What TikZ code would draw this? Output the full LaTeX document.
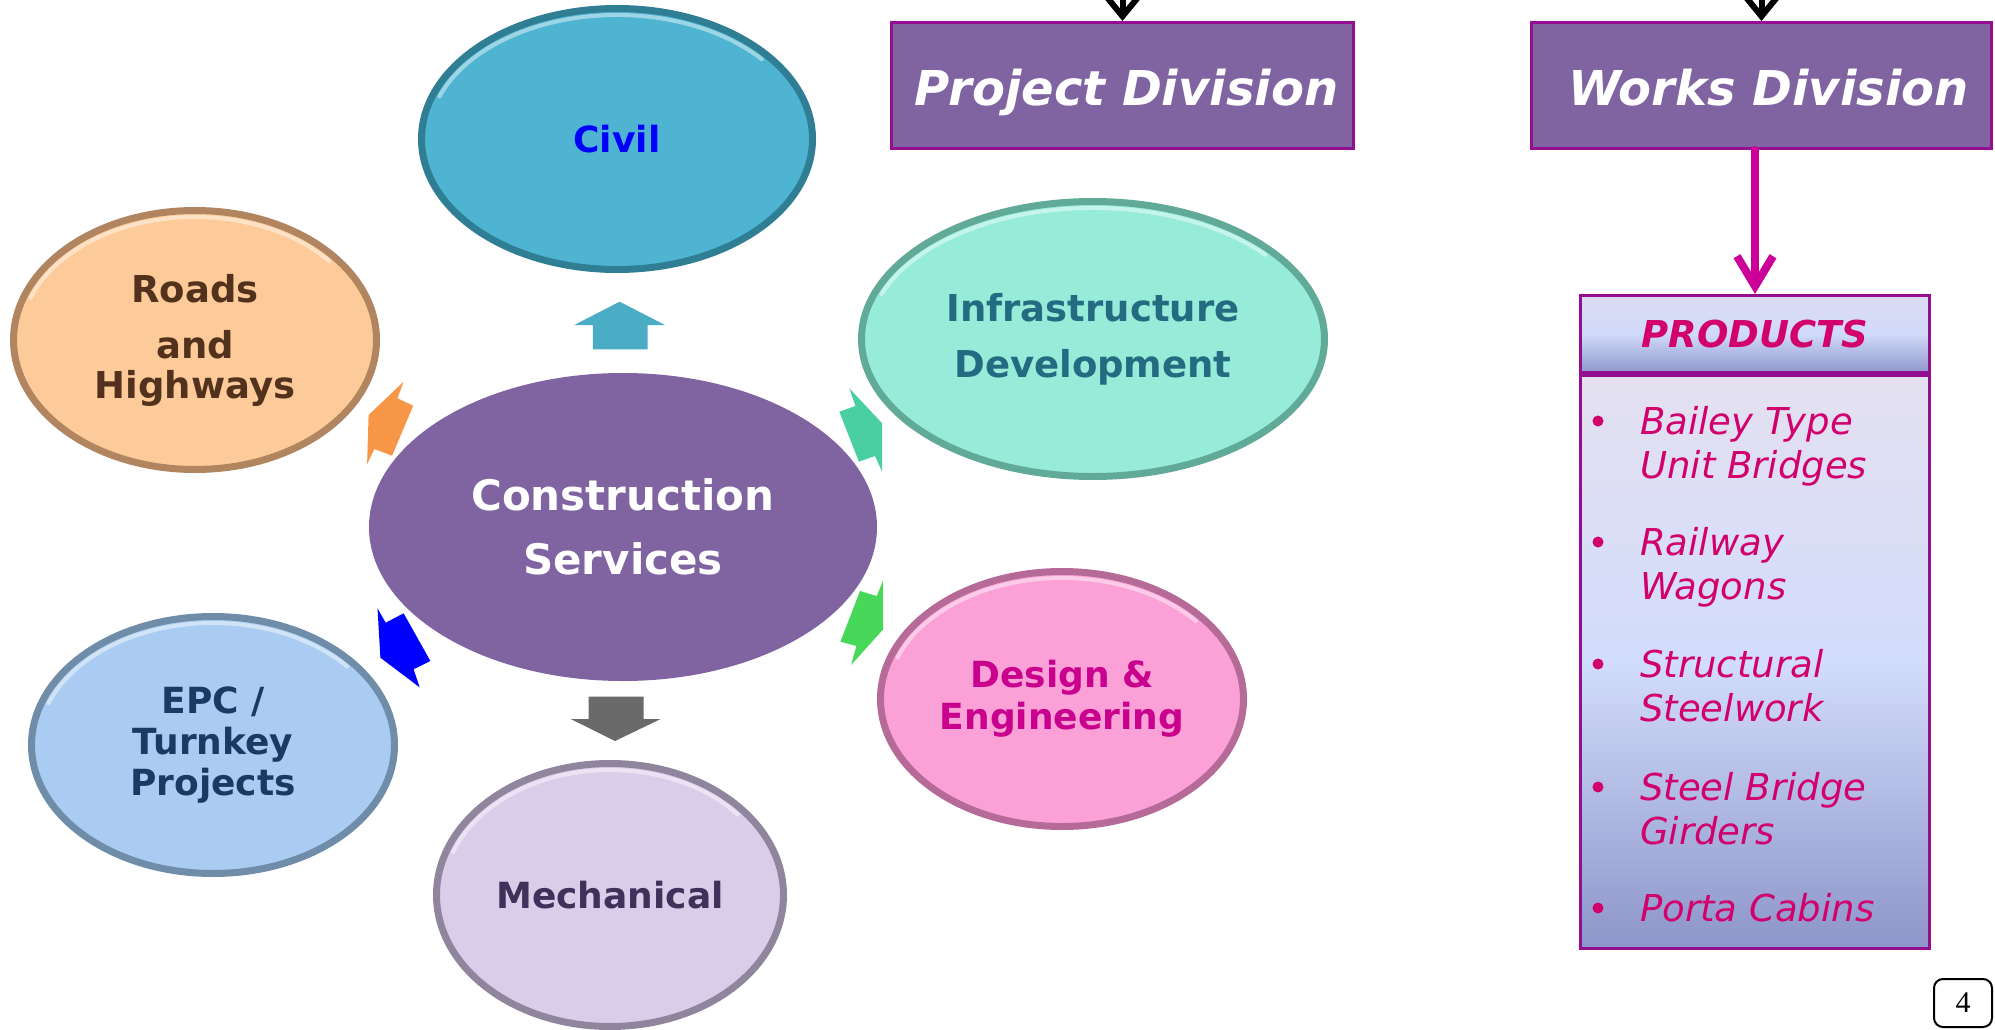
\documentclass[tikz,border=0pt]{standalone}
\usepackage{fontspec}
\setmainfont{DejaVu Sans}
\newfontfamily\pgnumfont{Liberation Serif}
\usetikzlibrary{shapes.geometric,arrows.meta,calc}
\definecolor{civilfill}{HTML}{4EB4D1}\definecolor{civildark}{HTML}{2F7E94}
\definecolor{infrafill}{HTML}{96EBD9}\definecolor{infradark}{HTML}{62AA98}\definecolor{infratext}{HTML}{236B80}
\definecolor{desfill}{HTML}{FBA1D7}\definecolor{desdark}{HTML}{B56A98}\definecolor{destext}{HTML}{C9008D}
\definecolor{mechfill}{HTML}{D9CDEA}\definecolor{mechdark}{HTML}{8F859C}\definecolor{mechtext}{HTML}{3F3159}
\definecolor{epcfill}{HTML}{AACCF2}\definecolor{epcdark}{HTML}{6F8CA8}\definecolor{epctext}{HTML}{1B3A63}
\definecolor{roadfill}{HTML}{FDCB99}\definecolor{roaddark}{HTML}{B08560}\definecolor{roadtext}{HTML}{52311D}
\definecolor{hubfill}{HTML}{8064A2}
\definecolor{boxborder}{HTML}{930E91}
\definecolor{prodpink}{HTML}{D1006C}
\definecolor{arrmagenta}{HTML}{CC0099}
\definecolor{arrcivil}{HTML}{4BACC6}\definecolor{arrgray}{HTML}{6A6A6A}
\definecolor{arrorange}{HTML}{F79646}\definecolor{arrteal}{HTML}{4ACFA2}
\definecolor{arrgreen}{HTML}{47D85A}\definecolor{arrblue}{HTML}{0000FF}
\definecolor{headtop}{HTML}{DCDCF4}\definecolor{headmid}{HTML}{D0DAF8}\definecolor{headbot}{HTML}{8F97CC}
\definecolor{bodytop}{HTML}{E4E0F0}\definecolor{bodymid}{HTML}{D2DCFB}\definecolor{bodybot}{HTML}{8D95CA}
\newcommand\rimlight[3]{\draw[rimhl] ($(#1.center)+(200:#2 and #3)$) arc[start angle=200,end angle=320,x radius=#2,y radius=#3];}
\begin{document}
\begin{tikzpicture}[x=1pt,y=-1pt,
  bubble/.style={ellipse, inner sep=0pt, line width=7pt, align=center,
    font=\bfseries\fontsize{36}{41}\selectfont},
  rimhl/.style={line width=4pt, white, opacity=0.45, line cap=round},
  divbox/.style={rectangle, fill=hubfill, draw=boxborder, line width=3pt,
    minimum height=126pt, inner sep=0pt, text=white,
    font=\bfseries\itshape\fontsize{48}{48}\selectfont, text height=41pt, text depth=0pt},
  feedarrow/.style={line width=6pt, black, line cap=round, line join=round,
    -{Straight Barb[length=22pt,width=36pt]}},
  prodarrow/.style={line width=8pt, arrmagenta, line cap=round, line join=round,
    -{Straight Barb[length=30pt,width=36pt]}},
  itemtext/.style={anchor=north west, inner sep=0pt, align=left, text=prodpink,
    font=\itshape\fontsize{37}{44.5}\selectfont},
  bulletdot/.style={circle, fill=prodpink, inner sep=0pt, minimum size=11pt}
]
\useasboundingbox (0,0) rectangle (1995,1030);
\clip (0,0) rectangle (1995,1030);

% outer bubbles
\node[bubble, fill=civilfill, draw=civildark, minimum width=391pt, minimum height=261pt, text=blue] (civil) at (617,139) {Civil};
\rimlight{civil}{189}{124}
\node[bubble, fill=infrafill, draw=infradark, minimum width=463pt, minimum height=275pt, text=infratext,
  font=\bfseries\fontsize{37}{56}\selectfont] (infra) at (1093,339) {Infrastructure\\Development};
\rimlight{infra}{225}{131}
\node[bubble, fill=desfill, draw=desdark, minimum width=363pt, minimum height=255pt, text=destext,
  font=\bfseries\fontsize{36}{42}\selectfont] (design) at (1062,699) {Design \&\\Engineering};
\rimlight{design}{175}{121}
\node[bubble, fill=mechfill, draw=mechdark, minimum width=347pt, minimum height=263pt, text=mechtext] (mech) at (610,895) {Mechanical};
\rimlight{mech}{167}{125}
\node[bubble, fill=epcfill, draw=epcdark, minimum width=363pt, minimum height=257pt, text=epctext,
  font=\bfseries\fontsize{36}{41}\selectfont] (epc) at (213,745) {EPC /\\Turnkey\\Projects};
\rimlight{epc}{175}{122}
\node[bubble, fill=roadfill, draw=roaddark, minimum width=363pt, minimum height=259pt, text=roadtext,
  font=\bfseries\fontsize{37}{40}\selectfont] (roads) at (195,340) {Roads\\[16pt]and\\Highways};
\rimlight{roads}{175}{123}

% hub
\node[ellipse, fill=hubfill, inner sep=0pt, minimum width=508pt, minimum height=308pt, align=center,
  text=white, font=\bfseries\fontsize{42}{64}\selectfont] (hub) at (623,527) {Construction\\Services};

% block arrows
\fill[arrcivil] (574.3,325) -- (619.6,301.7) -- (665,325) -- (647.5,325) -- (647.5,349.3) -- (592.9,349.3) -- (592.9,325) -- cycle;
\fill[arrgray] (588.6,696.7) -- (643.6,696.7) -- (643.6,719) -- (660.7,719) -- (615,741) -- (570.7,719) -- (588.6,719) -- cycle;
\fill[arrorange] (368.6,415) -- (403.6,381.7) -- (397.5,398.3) -- (413.2,405.7) -- (392.1,455.7) -- (374.3,449) -- (367.1,464.3) -- cycle;
\fill[arrteal] (849.3,388.3) -- (882.1,423.3) -- (882.1,471.7) -- (875,456) -- (858.9,461.7) -- (839.3,411.7) -- (855.4,406) -- cycle;
\fill[arrgreen] (883.2,580) -- (883.2,629.3) -- (851.1,665) -- (856.4,646) -- (840.4,641.7) -- (860,591) -- (876.8,596) -- cycle;
\fill[arrblue] (377.5,608.3) -- (385.7,622.7) -- (403.6,613.3) -- (430.4,661) -- (413.6,669.3) -- (419.6,687.3) -- (380.4,657.7) -- cycle;

% division boxes
\node[divbox, minimum width=462pt] (pd) at (1122.5,85.5) {\hspace*{8pt}Project Division};
\node[divbox, minimum width=460pt] (wd) at (1761.5,85.5) {\hspace*{14pt}Works Division};
\coordinate (pdfeed) at (1122.5,-80);
\coordinate (wdfeed) at (1761.5,-80);
\draw[feedarrow] (pdfeed) -- (pd.north);
\draw[feedarrow] (wdfeed) -- (wd.north);

% products
\node[rectangle, draw=boxborder, line width=3pt, minimum width=349pt, minimum height=573pt, inner sep=0pt,
  top color=bodytop, bottom color=bodybot, middle color=bodymid] (prodbody) at (1755,662) {};
\node[rectangle, draw=boxborder, line width=3pt, minimum width=349pt, minimum height=77pt, inner sep=0pt,
  top color=headtop, bottom color=headbot, middle color=headmid, text=prodpink,
  font=\bfseries\itshape\fontsize{37}{37}\selectfont] (prodhead) at (1755,334) {PRODUCTS};
\draw[prodarrow] (wd.south -| prodhead.north) -- (prodhead.north);

\node[bulletdot] (b1) at (1598,421) {};
\node[itemtext] (t1) at (1640,406) {Bailey Type\\Unit Bridges};
\node[bulletdot] (b2) at (1598,542) {};
\node[itemtext] (t2) at (1640,527) {Railway\\Wagons};
\node[bulletdot] (b3) at (1598,664) {};
\node[itemtext] (t3) at (1640,649) {Structural\\Steelwork};
\node[bulletdot] (b4) at (1598,787) {};
\node[itemtext] (t4) at (1640,772) {Steel Bridge\\Girders};
\node[bulletdot] (b5) at (1598,908) {};
\node[itemtext] (t5) at (1640,893) {Porta Cabins};

% page number
\node[rectangle, rounded corners=9pt, draw=black, line width=2pt, minimum width=58pt, minimum height=48pt,
  inner sep=0pt, font=\pgnumfont\fontsize{30}{30}\selectfont] (pgnum) at (1963,1003) {4};
\end{tikzpicture}
\end{document}
